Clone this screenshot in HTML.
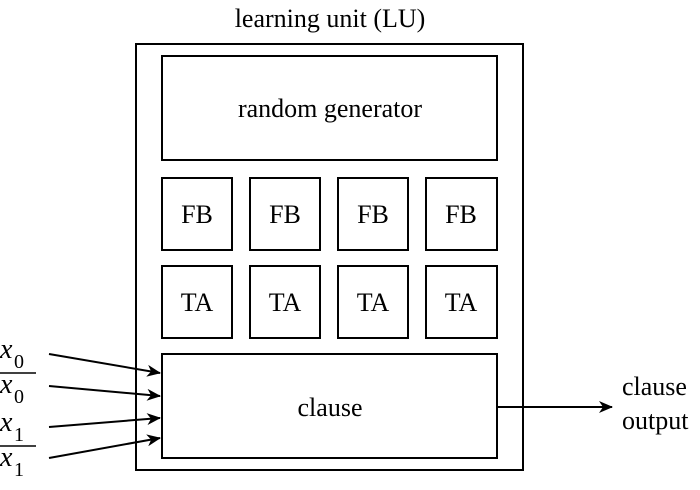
<!DOCTYPE html>
<html><head><style>body{margin:0;background:#fff}</style></head><body>
<svg width="700" height="485" xmlns="http://www.w3.org/2000/svg" font-family="Liberation Serif, serif" fill="none" stroke="#000" stroke-width="2">
<defs><marker id="a" markerWidth="14" markerHeight="12" refX="13" refY="6" orient="auto" markerUnits="userSpaceOnUse"><path d="M0,0 L14,6 L0,12 L4,6 Z" fill="#000" stroke="none"/></marker></defs>
<rect x="136" y="44" width="387" height="426"/>
<rect x="162" y="56" width="335" height="104"/>
<rect x="162" y="178" width="70" height="72"/><rect x="250" y="178" width="70" height="72"/><rect x="338" y="178" width="70" height="72"/><rect x="426" y="178" width="71" height="72"/>
<rect x="162" y="266" width="70" height="72"/><rect x="250" y="266" width="70" height="72"/><rect x="338" y="266" width="70" height="72"/><rect x="426" y="266" width="71" height="72"/>
<rect x="162" y="354" width="335" height="104"/>
<line x1="49" y1="354" x2="160" y2="373" marker-end="url(#a)"/>
<line x1="49" y1="386" x2="160" y2="396" marker-end="url(#a)"/>
<line x1="49" y1="427" x2="160" y2="418" marker-end="url(#a)"/>
<line x1="49" y1="458" x2="160" y2="438" marker-end="url(#a)"/>
<line x1="497" y1="407" x2="612" y2="407" marker-end="url(#a)"/>
<line x1="0" y1="373" x2="36" y2="373" stroke-width="1.5"/>
<line x1="0" y1="446" x2="36" y2="446" stroke-width="1.5"/>
<g fill="#000" stroke="none" font-size="26" text-anchor="middle">
<text x="330" y="27">learning unit (LU)</text>
<text x="330" y="117">random generator</text>
<text x="197" y="223">FB</text><text x="285" y="223">FB</text><text x="373" y="223">FB</text><text x="461" y="223">FB</text>
<text x="197" y="311">TA</text><text x="285" y="311">TA</text><text x="373" y="311">TA</text><text x="461" y="311">TA</text>
<text x="330" y="416">clause</text>
<text x="622" y="395" text-anchor="start">clause</text>
<text x="622" y="429" text-anchor="start">output</text>
</g>
<g fill="#000" stroke="none" font-size="28" font-style="italic">
<text x="0" y="358">x</text><text x="0" y="393">x</text><text x="0" y="431">x</text><text x="0" y="466">x</text>
</g>
<g fill="#000" stroke="none" font-size="20">
<text x="14" y="368">0</text><text x="14" y="403">0</text><text x="14" y="441">1</text><text x="14" y="476">1</text>
</g>
</svg>
</body></html>
